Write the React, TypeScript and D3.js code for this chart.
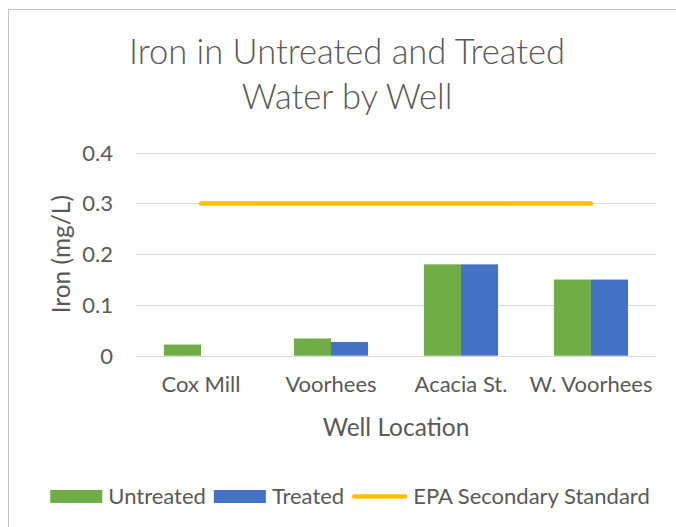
import React, { useEffect, useRef } from "react";
import * as d3 from "d3";

const categories = ["Cox Mill", "Voorhees", "Acacia St.", "W. Voorhees"];
const untreated = [0.022, 0.034, 0.18, 0.15];
const treated = [0, 0.027, 0.18, 0.15];
const epaStandard = [0.3, 0.3, 0.3, 0.3];
const yTicks = [0, 0.1, 0.2, 0.3, 0.4];
const seriesNames = ["Untreated", "Treated"];
const lineName = "EPA Secondary Standard";
const titleLines = ["Iron in Untreated and Treated", "Water by Well"];
const xTitle = "Well Location";
const yTitle = "Iron (mg/L)";

const W = 676;
const H = 527;
const FONT = "Lato, 'Open Sans', sans-serif";
const TXT = "#595959";
const GREEN = "#70AD47";
const BLUE = "#4472C4";
const GOLD = "#FFC000";
const GRID = "#D9D9D9";

export default function App() {
  const ref = useRef<SVGSVGElement>(null);
  useEffect(() => {
    const svg = d3.select(ref.current);
    svg.selectAll("*").remove();

    const left = 136, right = 656, top = 152.7, bottom = 355.7;

    // chart border
    svg.append("rect")
      .attr("x", 8.5).attr("y", 9.5)
      .attr("width", 800).attr("height", 800)
      .attr("fill", "#fff").attr("stroke", "#C4C4C4").attr("stroke-width", 1);

    const y = d3.scaleLinear().domain([0, 0.4]).range([bottom, top]);
    const x0 = d3.scaleBand<string>().domain(categories).range([left, right])
      .paddingInner(0.43).paddingOuter(0.215);
    const x1 = d3.scaleBand<string>().domain(seriesNames).range([0, x0.bandwidth()]);

    // gridlines
    svg.append("g").selectAll("line").data(yTicks).join("line")
      .attr("x1", left).attr("x2", right)
      .attr("y1", (d) => Math.round(y(d)) + 0.5).attr("y2", (d) => Math.round(y(d)) + 0.5)
      .attr("stroke", GRID).attr("stroke-width", 1);

    // y tick labels
    svg.append("g").selectAll("text").data(yTicks).join("text")
      .attr("x", 113).attr("y", (d) => y(d)).attr("dy", "0.36em")
      .attr("text-anchor", "end").attr("font-family", FONT).attr("font-size", 22)
      .attr("fill", TXT).text((d) => String(d));

    // bars
    const values = [untreated, treated];
    const colors = [GREEN, BLUE];
    seriesNames.forEach((s, si) => {
      svg.append("g").selectAll("rect").data(categories).join("rect")
        .attr("x", (c) => (x0(c) as number) + (x1(s) as number))
        .attr("width", x1.bandwidth())
        .attr("y", (c, i) => y(values[si][i]))
        .attr("height", (c, i) => bottom - y(values[si][i]))
        .attr("fill", colors[si]);
    });

    // EPA line
    const line = d3.line<number>()
      .x((d, i) => (x0(categories[i]) as number) + x0.bandwidth() / 2)
      .y((d) => y(d));
    svg.append("path").datum(epaStandard).attr("d", line)
      .attr("fill", "none").attr("stroke", GOLD).attr("stroke-width", 4.5)
      .attr("stroke-linecap", "round");

    // category labels
    svg.append("g").selectAll("text").data(categories).join("text")
      .attr("x", (c) => (x0(c) as number) + x0.bandwidth() / 2).attr("y", 392)
      .attr("text-anchor", "middle").attr("font-family", FONT).attr("font-size", 22)
      .attr("fill", TXT).text((c) => c);

    // axis titles
    svg.append("text").attr("x", (left + right) / 2).attr("y", 436)
      .attr("text-anchor", "middle").attr("font-family", FONT).attr("font-size", 24.5)
      .attr("fill", TXT).text(xTitle);
    svg.append("text").attr("transform", `translate(70,${(top + bottom) / 2}) rotate(-90)`)
      .attr("text-anchor", "middle").attr("font-family", FONT).attr("font-size", 24.5)
      .attr("fill", TXT).text(yTitle);

    // title
    svg.append("g").selectAll("text").data(titleLines).join("text")
      .attr("x", 347).attr("y", (d, i) => 64 + i * 45)
      .attr("text-anchor", "middle").attr("font-family", FONT).attr("font-size", 34.5)
      .attr("font-weight", 300).attr("fill", TXT).text((d) => d);

    // legend
    const lg = svg.append("g");
    const items = [
      { name: seriesNames[0], color: GREEN, kind: "rect" },
      { name: seriesNames[1], color: BLUE, kind: "rect" },
      { name: lineName, color: GOLD, kind: "line" },
    ];
    const sw = 52, gapIn = 6, gapOut = 8, ly = 496.5;
    let cx = 0;
    const placed: any[] = [];
    items.forEach((it) => {
      const t = lg.append("text").attr("font-family", FONT).attr("font-size", 22)
        .attr("fill", TXT).text(it.name).attr("dy", "0.36em").attr("y", ly);
      const tw = (t.node() as SVGTextElement).getComputedTextLength();
      const swW = it.kind === "rect" ? sw : 55;
      placed.push({ it, t, x: cx, swW });
      cx += swW + gapIn + tw + gapOut;
    });
    const total = cx - gapOut;
    const startX = 350 - total / 2;
    placed.forEach((p) => {
      const sx = startX + p.x;
      if (p.it.kind === "rect") {
        lg.append("rect").attr("x", sx).attr("y", ly - 6.5).attr("width", p.swW).attr("height", 13)
          .attr("fill", p.it.color);
      } else {
        lg.append("line").attr("x1", sx + 2).attr("x2", sx + p.swW - 2).attr("y1", ly).attr("y2", ly)
          .attr("stroke", p.it.color).attr("stroke-width", 4.5).attr("stroke-linecap", "round");
      }
      p.t.attr("x", sx + p.swW + gapIn);
    });
  }, []);
  return (
    <svg ref={ref} width={W} height={H}
      style={{ position: "absolute", left: 0, top: 0, background: "#fff" }} />
  );
}
